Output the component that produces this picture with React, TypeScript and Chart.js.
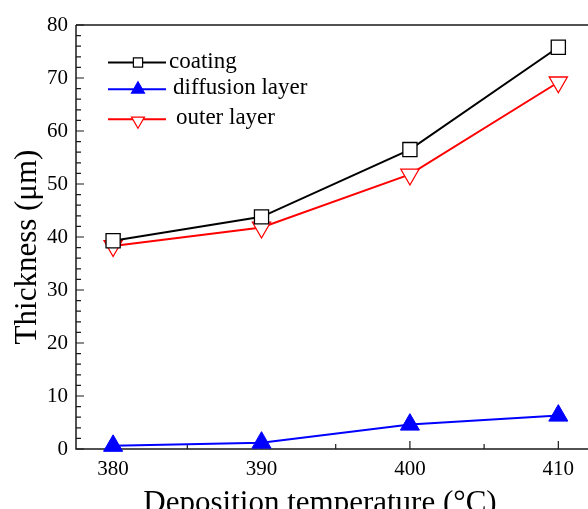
import React, { useEffect, useRef } from "react";
import { Chart, registerables } from "chart.js";

Chart.register(...registerables);

const temperatures = [380, 390, 400, 410];
const coating = [39.3, 43.8, 56.5, 75.8];
const diffusionLayer = [0.6, 1.2, 4.6, 6.3];
const outerLayer = [38.3, 41.8, 51.8, 69.2];
const xTicks = [380, 390, 400, 410];
const xMinorTicks = [385, 395, 405];
const yTicks = [0, 10, 20, 30, 40, 50, 60, 70, 80];

const FONT = '"Liberation Serif", "Times New Roman", serif';

function drawMarker(ctx: CanvasRenderingContext2D, style: string, x: number, y: number, r: number, fill: string, stroke: string, lw: number) {
  ctx.save();
  ctx.beginPath();
  if (style === "rect") {
    const h = r * Math.SQRT1_2;
    ctx.rect(x - h, y - h, 2 * h, 2 * h);
  } else {
    const down = style === "triangleDown";
    const s = down ? -1 : 1;
    ctx.moveTo(x, y - s * r);
    ctx.lineTo(x + r * Math.sin((2 * Math.PI) / 3), y + s * r * 0.5);
    ctx.lineTo(x - r * Math.sin((2 * Math.PI) / 3), y + s * r * 0.5);
    ctx.closePath();
  }
  ctx.fillStyle = fill;
  ctx.fill();
  ctx.lineWidth = lw;
  ctx.strokeStyle = stroke;
  ctx.stroke();
  ctx.restore();
}

const framePlugin = {
  id: "frame",
  beforeDatasetsDraw(chart: any) {
    const { ctx, chartArea, scales } = chart;
    const xs = scales.x;
    const ys = scales.y;
    ctx.save();
    ctx.strokeStyle = "#1a1a1a";
    ctx.lineWidth = 1.5;
    ctx.beginPath();
    ctx.moveTo(chartArea.left, chartArea.top);
    ctx.lineTo(chartArea.left, chartArea.bottom);
    ctx.lineTo(chart.width, chartArea.bottom);
    ctx.moveTo(chartArea.left, chartArea.top);
    ctx.lineTo(chart.width, chartArea.top);
    ctx.stroke();
    ctx.lineWidth = 1.2;
    ctx.beginPath();
    for (const v of yTicks) {
      const py = ys.getPixelForValue(v);
      ctx.moveTo(chartArea.left, py);
      ctx.lineTo(chartArea.left + 8, py);
    }
    for (let v = 0; v < 80; v += 2) {
      if (v % 10 === 0) continue;
      const py = ys.getPixelForValue(v);
      ctx.moveTo(chartArea.left, py);
      ctx.lineTo(chartArea.left + 5, py);
    }
    for (const v of xTicks) {
      const px = xs.getPixelForValue(v);
      ctx.moveTo(px, chartArea.bottom);
      ctx.lineTo(px, chartArea.bottom - 8);
    }
    for (const v of xMinorTicks) {
      const px = xs.getPixelForValue(v);
      ctx.moveTo(px, chartArea.bottom);
      ctx.lineTo(px, chartArea.bottom - 5);
    }
    ctx.stroke();
    ctx.restore();
  },
  afterDraw(chart: any) {
    const { ctx } = chart;
    ctx.save();
    ctx.fillStyle = "#000";
    ctx.font = `31px ${FONT}`;
    ctx.textAlign = "center";
    ctx.textBaseline = "alphabetic";
    ctx.fillText("Deposition temperature (°C)", 320, 512);
    ctx.save();
    ctx.translate(36, 247);
    ctx.rotate(-Math.PI / 2);
    ctx.fillText("Thickness (μm)", 0, 0);
    ctx.restore();
    const rows = [
      { label: "coating", color: "#000000", style: "rect", fill: "#ffffff", y: 62.5, tx: 169, r: 6.5 },
      { label: "diffusion layer", color: "#0000ff", style: "triangle", fill: "#0000ff", y: 89.3, tx: 173, r: 7.5 },
      { label: "outer layer", color: "#ff0000", style: "triangleDown", fill: "#ffffff", y: 119.3, tx: 176, r: 7.5 },
    ];
    ctx.font = `23px ${FONT}`;
    ctx.textAlign = "left";
    for (const row of rows) {
      ctx.strokeStyle = row.color;
      ctx.lineWidth = 2;
      ctx.beginPath();
      ctx.moveTo(108, row.y);
      ctx.lineTo(166, row.y);
      ctx.stroke();
      drawMarker(ctx, row.style, 138, row.style === "triangleDown" ? row.y + 1.5 : row.y, row.r, row.fill, row.color, 1.2);
      ctx.fillStyle = "#000";
      ctx.fillText(row.label, row.tx, row.y + 5);
    }
    ctx.restore();
  },
};

export default function App() {
  const ref = useRef<HTMLCanvasElement | null>(null);
  useEffect(() => {
    if (!ref.current) return;
    const chart = new Chart(ref.current, {
      type: "line",
      data: {
        datasets: [
          {
            label: "coating",
            data: temperatures.map((t, i) => ({ x: t, y: coating[i] })),
            borderColor: "#000000",
            backgroundColor: "#ffffff",
            borderWidth: 2,
            pointStyle: "rect",
            pointRadius: 10,
            pointBorderWidth: 1.3,
            pointBorderColor: "#000000",
            pointBackgroundColor: "#ffffff",
            clip: false,
          },
          {
            label: "diffusion layer",
            data: temperatures.map((t, i) => ({ x: t, y: diffusionLayer[i] })),
            borderColor: "#0000ff",
            backgroundColor: "#0000ff",
            borderWidth: 2,
            pointStyle: "triangle",
            pointRadius: 11,
            pointBorderWidth: 1,
            pointBorderColor: "#0000ff",
            pointBackgroundColor: "#0000ff",
            clip: false,
          },
          {
            label: "outer layer",
            data: temperatures.map((t, i) => ({ x: t, y: outerLayer[i] })),
            borderColor: "#ff0000",
            backgroundColor: "#ffffff",
            borderWidth: 2,
            pointStyle: "triangle",
            pointRotation: 180,
            pointRadius: 10.5,
            pointBorderWidth: 1.3,
            pointBorderColor: "#ff0000",
            pointBackgroundColor: "#ffffff",
            clip: false,
          },
        ],
      },
      options: {
        animation: false,
        responsive: false,
        devicePixelRatio: 1,
        layout: { autoPadding: false, padding: { top: 25, right: 0, left: 0, bottom: 0 } },
        plugins: { legend: { display: false }, tooltip: { enabled: false } },
        scales: {
          x: {
            type: "linear",
            min: 377.5,
            max: 412,
            afterBuildTicks: (scale: any) => {
              scale.ticks = xTicks.map((v) => ({ value: v }));
            },
            afterFit: (scale: any) => {
              scale.height = 60;
              scale.paddingLeft = 0;
              scale.paddingRight = 0;
            },
            grid: { display: false, drawTicks: false },
            border: { display: false },
            ticks: {
              padding: 8,
              color: "#000",
              font: { family: FONT, size: 21 },
              maxRotation: 0,
            },
          },
          y: {
            min: 0,
            max: 80,
            afterBuildTicks: (scale: any) => {
              scale.ticks = yTicks.map((v) => ({ value: v }));
            },
            afterFit: (scale: any) => {
              scale.width = 76;
              scale.paddingTop = 0;
              scale.paddingBottom = 0;
            },
            grid: { display: false, drawTicks: false },
            border: { display: false },
            ticks: {
              padding: 8,
              color: "#000",
              font: { family: FONT, size: 21 },
            },
          },
        },
      },
      plugins: [framePlugin],
    } as any);
    return () => chart.destroy();
  }, []);
  return (
    <div style={{ position: "fixed", left: 0, top: 0, width: 588, height: 509, background: "#fff" }}>
      <canvas ref={ref} width={588} height={509} style={{ display: "block" }} />
    </div>
  );
}
